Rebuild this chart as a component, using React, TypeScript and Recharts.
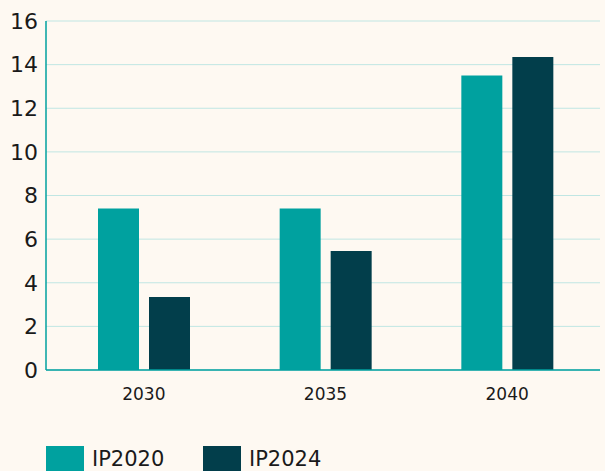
import { BarChart, Bar, XAxis, YAxis, CartesianGrid } from 'recharts'

const years = ['2030', '2035', '2040']
const ip2020 = [7.4, 7.4, 13.5]
const ip2024 = [3.35, 5.45, 14.35]
const yTicks = [0, 2, 4, 6, 8, 10, 12, 14, 16]

const TEAL = '#00a19f'
const DARK = '#023e4b'
const BG = '#fef9f2'
const FONT = '"DejaVu Sans", Verdana, sans-serif'

const data = years.map((year, i) => ({ year, ip2020: ip2020[i], ip2024: ip2024[i] }))

function LegendItem({ color, label, left }: { color: string; label: string; left: number }) {
  return (
    <div style={{ position: 'absolute', left, top: 446, display: 'flex', alignItems: 'center' }}>
      <span style={{ width: 38, height: 25, background: color, display: 'inline-block' }} />
      <span style={{ marginLeft: 8, fontSize: 21, color: '#1a1a1a', fontFamily: FONT }}>{label}</span>
    </div>
  )
}

export default function App() {
  return (
    <div style={{ position: 'fixed', left: 0, top: 0, width: 605, height: 471, background: BG, overflow: 'hidden' }}>
      <BarChart
        width={605}
        height={471}
        data={data}
        barSize={41}
        barGap={10}
        margin={{ top: 21, right: 5, left: 0, bottom: 71 }}
      >
        <CartesianGrid stroke="#c0e6e3" vertical={false} />
        <XAxis
          dataKey="year"
          height={30}
          padding={{ left: 7, right: 2 }}
          axisLine={{ stroke: TEAL, strokeWidth: 1.5 }}
          tickLine={false}
          tickMargin={12}
          tick={{ fontSize: 17, fill: '#1a1a1a', fontFamily: FONT }}
        />
        <YAxis
          width={46}
          domain={[0, 16]}
          ticks={yTicks}
          interval={0}
          axisLine={{ stroke: TEAL, strokeWidth: 1.5 }}
          tickLine={false}
          tick={{ fontSize: 22, fill: '#1a1a1a', fontFamily: FONT }}
        />
        <Bar dataKey="ip2020" name="IP2020" fill={TEAL} isAnimationActive={false} />
        <Bar dataKey="ip2024" name="IP2024" fill={DARK} isAnimationActive={false} />
      </BarChart>
      <LegendItem color={TEAL} label="IP2020" left={46} />
      <LegendItem color={DARK} label="IP2024" left={203} />
    </div>
  )
}
